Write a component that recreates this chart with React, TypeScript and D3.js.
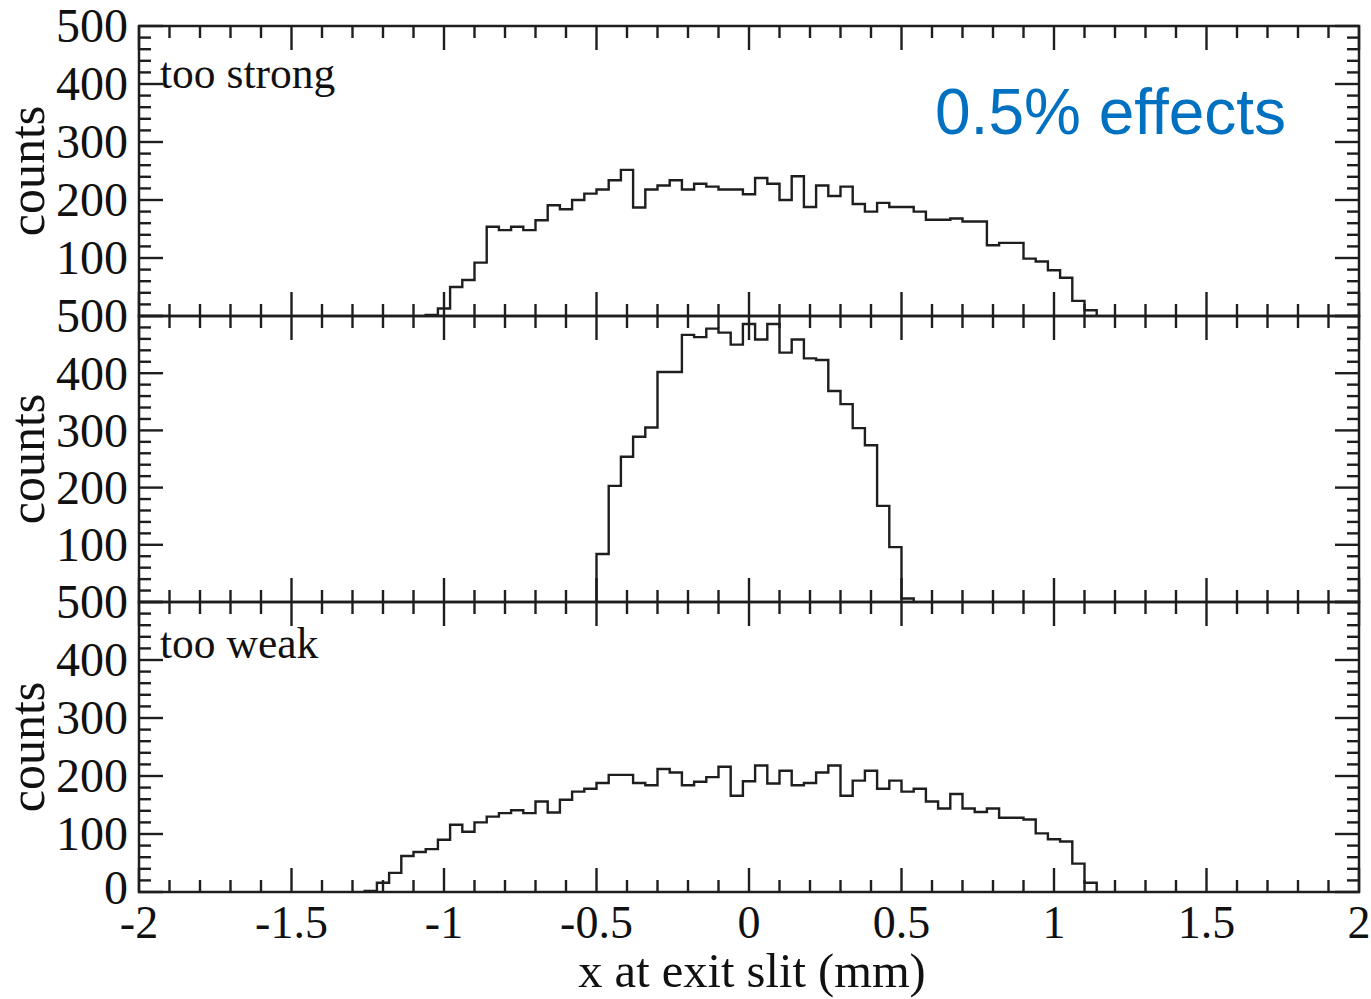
import React from "react";
import * as d3 from "d3";

// ---- data ----
const binWidth = 0.04;
const topStart = -1.04;
const topValues = [2, 13, 50, 62, 92, 154, 148, 154, 148, 165, 191, 184, 200, 211, 218, 234, 252, 187, 218, 225, 234, 218, 228, 223, 218, 218, 210, 238, 228, 200, 241, 188, 225, 207, 223, 193, 180, 195, 188, 188, 180, 166, 166, 168, 163, 163, 122, 126, 126, 99, 94, 79, 66, 26, 10];
const midStart = -0.48;
const midValues = [84, 203, 254, 289, 305, 402, 402, 467, 463, 478, 471, 450, 486, 459, 486, 436, 459, 426, 423, 369, 346, 304, 274, 168, 96, 6];
const botStart = -1.24;
const botValues = [2, 16, 33, 62, 69, 74, 90, 116, 104, 120, 130, 136, 141, 136, 156, 137, 159, 173, 178, 188, 202, 202, 188, 184, 212, 206, 184, 190, 198, 216, 166, 191, 218, 187, 209, 184, 188, 206, 218, 166, 192, 209, 178, 192, 173, 178, 156, 144, 169, 144, 138, 144, 128, 128, 125, 101, 91, 87, 49, 16];

const xMajorTicks = [-2, -1.5, -1, -0.5, 0, 0.5, 1, 1.5, 2];
const xTickLabels = ["-2", "-1.5", "-1", "-0.5", "0", "0.5", "1", "1.5", "2"];
const yMajorTicks = [0, 100, 200, 300, 400, 500];

const panels = [
  { start: topStart, values: topValues, label: "too strong", yLabels: [100, 200, 300, 400, 500] },
  { start: midStart, values: midValues, label: "", yLabels: [100, 200, 300, 400, 500] },
  { start: botStart, values: botValues, label: "too weak", yLabels: [0, 100, 200, 300, 400, 500] },
];

const W = 1371;
const H = 999;
const left = 139;
const right = 1359;
const panelTops = [26, 316, 602];
const panelBottoms = [316, 602, 892];
const ink = "#1e1e1e";
const serif = "'Liberation Serif', 'Times New Roman', serif";

export default function App() {
  const x = d3.scaleLinear().domain([-2, 2]).range([left, right]);
  const xMinor = d3.range(-20, 21).map((i) => i / 10);
  const yMinor = d3.range(0, 26).map((i) => i * 20);

  return (
    <svg width={W} height={H} style={{ position: "absolute", left: 0, top: 0, background: "#fff" }}>
      {panels.map((p, pi) => {
        const y = d3.scaleLinear().domain([0, 500]).range([panelBottoms[pi], panelTops[pi]]);
        const pts: [number, number][] = [];
        p.values.forEach((v, i) => {
          const c = p.start + i * binWidth;
          pts.push([c - binWidth / 2, v]);
          pts.push([c + binWidth / 2, v]);
        });
        const first = pts[0][0];
        const last = pts[pts.length - 1][0];
        const all: [number, number][] = [[first, 0], ...pts, [last, 0]];
        const line = d3
          .line<[number, number]>()
          .x((d) => x(d[0]))
          .y((d) => y(d[1]));
        const top = panelTops[pi];
        const bot = panelBottoms[pi];
        const isMajorX = (t: number) => Math.abs(t * 2 - Math.round(t * 2)) < 1e-6;
        return (
          <g key={pi}>
            <path d={line(all) || ""} fill="none" stroke={ink} strokeWidth={2.4} />
            <rect x={left} y={top} width={right - left} height={bot - top} fill="none" stroke={ink} strokeWidth={2.5} />
            {xMinor.map((t, i) => {
              const len = isMajorX(t) ? 24 : 12;
              const xx = x(t);
              return (
                <g key={"xt" + i}>
                  <line x1={xx} x2={xx} y1={bot} y2={bot - len} stroke={ink} strokeWidth={2.4} />
                  <line x1={xx} x2={xx} y1={top} y2={top + len} stroke={ink} strokeWidth={2.4} />
                </g>
              );
            })}
            {yMinor.map((t, i) => {
              const len = t % 100 === 0 ? 24 : 12;
              const yy = y(t);
              return (
                <g key={"yt" + i}>
                  <line x1={left} x2={left + len} y1={yy} y2={yy} stroke={ink} strokeWidth={2.4} />
                  <line x1={right} x2={right - len} y1={yy} y2={yy} stroke={ink} strokeWidth={2.4} />
                </g>
              );
            })}
            {yMajorTicks
              .filter((t) => p.yLabels.includes(t))
              .map((t) => (
                <text
                  key={"yl" + t}
                  x={left - 11}
                  y={y(t) - (t === 0 ? 4 : 0)}
                  dy="0.34em"
                  textAnchor="end"
                  fontFamily={serif}
                  fontSize={48}
                  fill="#111"
                >
                  {t}
                </text>
              ))}
            <text
              transform={`translate(${44},${(top + bot) / 2}) rotate(-90)`}
              textAnchor="middle"
              fontFamily={serif}
              fontSize={50}
              fill="#111"
            >
              counts
            </text>
            {p.label && (
              <text x={160} y={pi === 0 ? 88 : 658} fontFamily={serif} fontSize={43.5} fill="#111">
                {p.label}
              </text>
            )}
          </g>
        );
      })}
      {xMajorTicks.map((t, i) => (
        <text key={"xl" + i} x={x(t)} y={938} textAnchor="middle" fontFamily={serif} fontSize={46} fill="#111">
          {xTickLabels[i]}
        </text>
      ))}
      <text x={752} y={987} textAnchor="middle" fontFamily={serif} fontSize={48.5} fill="#111">
        x at exit slit (mm)
      </text>
      <text x={935} y={134} fontFamily="'Liberation Sans', Arial, sans-serif" fontSize={64} fill="#0070C0">
        0.5% effects
      </text>
    </svg>
  );
}
